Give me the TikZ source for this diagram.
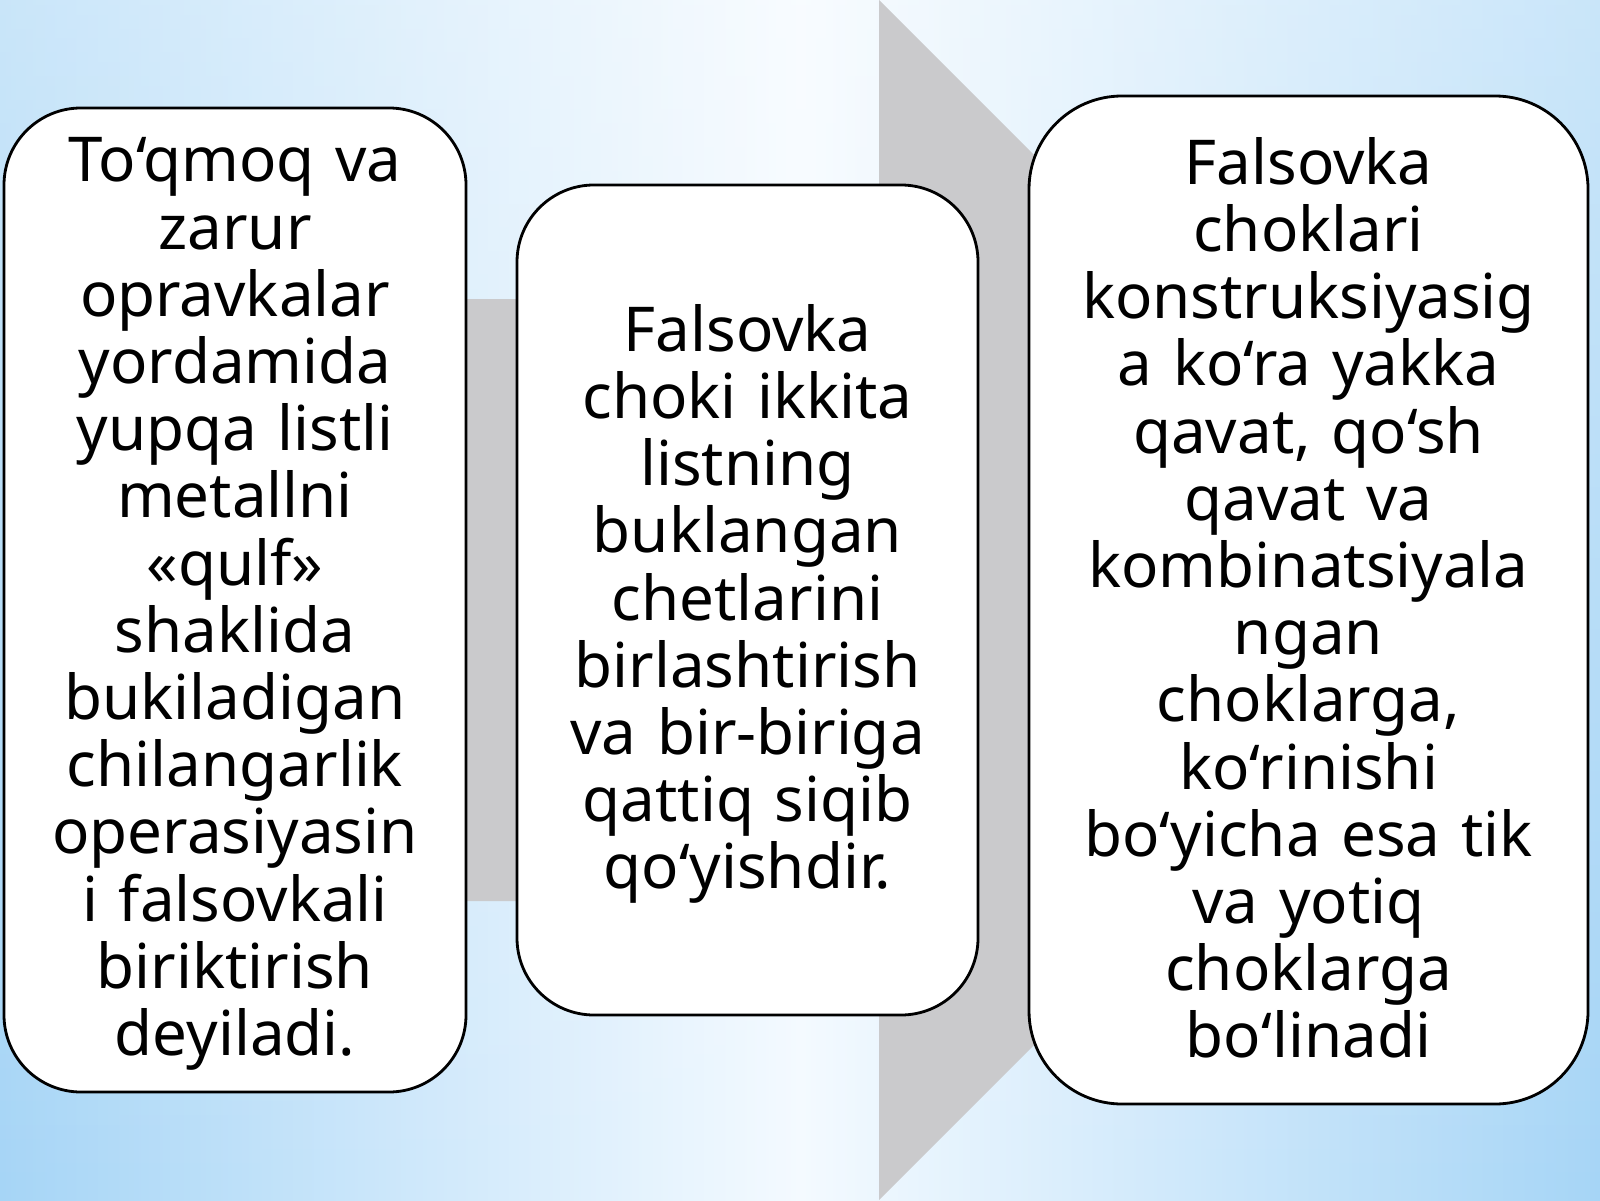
\documentclass[tikz,border=0pt]{standalone}
\usepackage{fontspec}
\setmainfont{Noto Sans}[WordSpace=0.85]
\usetikzlibrary{fadings}
\definecolor{bgedge}{RGB}{166,213,246}
\definecolor{bgcenter}{RGB}{244,250,255}
\definecolor{arrowgray}{RGB}{202,202,204}
\tikzset{
  panel/.style={draw=black, line width=0.8pt, fill=white, rounded corners=#1, inner sep=0pt},
  panel/.default=0.77cm,
  paneltext/.style={align=center, inner sep=0pt, text=black,
    font=\fontsize{17.6pt}{19.12pt}\selectfont}
}
\begin{document}
\begin{tikzpicture}[x=1cm,y=1cm]
\useasboundingbox (0,0) rectangle (16,12);
% background
\shade[left color=bgedge, right color=bgcenter] (0,0) rectangle (8.01,12);
\shade[left color=bgcenter, right color=bgedge] (8,0) rectangle (16,12);
\fill[white, fill opacity=0.4, path fading=south] (0,0) rectangle (16,12);
% gray arrow
\fill[arrowgray] (2,2.99) -- (8.79,2.99) -- (8.79,0) -- (14.79,6) -- (8.79,12) -- (8.79,9.01) -- (2,9.01) -- cycle;
% panels
\node[panel, minimum width=4.62cm, minimum height=9.84cm] (left) at (2.35,6.0) {};
\node[panel, minimum width=4.61cm, minimum height=8.30cm] (middle) at (7.475,6.0) {};
\node[panel=0.93cm, minimum width=5.59cm, minimum height=10.08cm] (right) at (13.085,6.0) {};
% texts
\node[paneltext, text width=4.4cm] (lefttext) at ([yshift=-0.04cm]left.center)
 {To‘qmoq va\\ zarur\\ opravkalar\\ yordamida\\ yupqa listli\\ metallni\\ «qulf»\\ shaklida\\ bukiladigan\\ chilangarlik\\ operasiyasin\\ i falsovkali\\ biriktirish\\ deyiladi.};
\node[paneltext, text width=4.4cm] (middletext) at ([yshift=-0.04cm]middle.center)
 {Falsovka\\ choki ikkita\\ listning\\ buklangan\\ chetlarini\\ birlashtirish\\ va bir-biriga\\ qattiq siqib\\ qo‘yishdir.};
\node[paneltext, text width=5.4cm] (righttext) at ([yshift=0.02cm]right.center)
 {Falsovka\\ choklari\\ konstruksiyasig\\ a ko‘ra yakka\\ qavat, qo‘sh\\ qavat va\\ kombinatsiyala\\ ngan\\ choklarga,\\ ko‘rinishi\\ bo‘yicha esa tik\\ va yotiq\\ choklarga\\ bo‘linadi};
\end{tikzpicture}
\end{document}
